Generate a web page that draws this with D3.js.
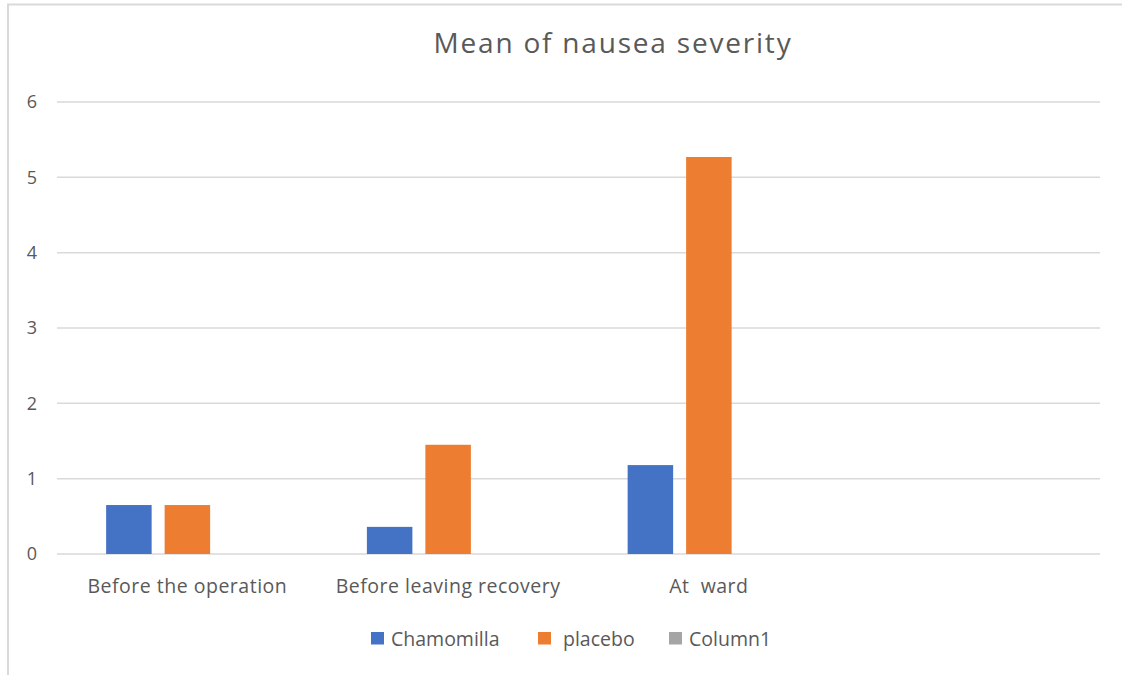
<!DOCTYPE html>
<html>
<head>
<meta charset="utf-8">
<script src="https://cdn.jsdelivr.net/npm/d3@7"></script>
<style>
    body { margin: 0; background: #fff; }
    svg { font-family: "Open Sans", "Noto Sans", sans-serif; }
    text { white-space: pre; }
</style>
</head>
<body>
<div id="chart"></div>
<script>
const categories = ['Before the operation', 'Before leaving recovery', 'At  ward', ''];
const seriesNames = ['Chamomilla', 'placebo', 'Column1'];
const chamomilla = [0.65, 0.36, 1.18, null];
const placebo = [0.65, 1.45, 5.27, null];
const column1 = [null, null, null, null];
const yTicks = [0, 1, 2, 3, 4, 5, 6];
const colors = ['#4472c4', '#ed7d31', '#a5a5a5'];

const width = 1122, height = 675;
const margin = {top: 102, right: 22, bottom: 121, left: 57};

const svg = d3.select('#chart')
    .append('svg')
    .attr('width', width)
    .attr('height', height);

// chart frame (partly cropped in the original)
svg.append('line')
    .attr('x1', 7).attr('x2', width).attr('y1', 4.5).attr('y2', 4.5)
    .attr('stroke', '#d9d9d9').attr('stroke-width', 2);
svg.append('line')
    .attr('x1', 8).attr('x2', 8).attr('y1', 4).attr('y2', height)
    .attr('stroke', '#d9d9d9').attr('stroke-width', 2);

const x = d3.scaleBand()
    .domain(categories.map((c, i) => i))
    .range([margin.left, width - margin.right]);

const xSub = d3.scaleBand()
    .domain(seriesNames)
    .range([0, x.bandwidth()])
    .paddingInner(0.222)
    .paddingOuter(0.84);

const y = d3.scaleLinear()
    .domain([0, 6])
    .range([height - margin.bottom, margin.top]);

// gridlines
svg.append('g')
    .selectAll('line')
    .data(yTicks)
    .enter().append('line')
    .attr('x1', margin.left)
    .attr('x2', width - margin.right)
    .attr('y1', d => y(d))
    .attr('y2', d => y(d))
    .attr('stroke', '#d9d9d9')
    .attr('stroke-width', 1.5);

// y axis labels
const yAxis = svg.append('g')
    .attr('transform', `translate(${margin.left},0)`)
    .call(d3.axisLeft(y).tickValues(yTicks).tickFormat(d3.format('d')).tickSize(0).tickPadding(20));
yAxis.select('.domain').remove();
yAxis.selectAll('text')
    .attr('fill', '#595959')
    .style('font-size', '18px')
    .style('font-family', '"Open Sans", sans-serif');

// bars
const data = [chamomilla, placebo, column1];
seriesNames.forEach((name, si) => {
    svg.append('g')
        .selectAll('rect')
        .data(data[si].map((v, i) => ({i, v})).filter(d => d.v !== null))
        .enter().append('rect')
        .attr('x', d => x(d.i) + xSub(name))
        .attr('width', xSub.bandwidth())
        .attr('y', d => y(d.v))
        .attr('height', d => y(0) - y(d.v))
        .attr('fill', colors[si]);
});

// x axis labels
const xAxis = svg.append('g')
    .attr('transform', `translate(0,${y(0)})`)
    .call(d3.axisBottom(x).tickFormat(i => categories[i]).tickSize(0).tickPadding(25));
xAxis.select('.domain').remove();
xAxis.selectAll('text')
    .attr('fill', '#595959')
    .style('font-size', '19.5px')
    .style('letter-spacing', '0.5px')
    .style('font-family', '"Open Sans", sans-serif');

// title
svg.append('text')
    .attr('x', 613)
    .attr('y', 53)
    .attr('text-anchor', 'middle')
    .attr('fill', '#595959')
    .style('font-size', '28px')
    .style('letter-spacing', '1.8px')
    .text('Mean of nausea severity');

// legend
const legendX = [371, 538, 669];
const legend = svg.append('g');
seriesNames.forEach((name, si) => {
    legend.append('rect')
        .attr('x', legendX[si])
        .attr('y', 632)
        .attr('width', 13)
        .attr('height', 12.5)
        .attr('fill', colors[si]);
    legend.append('text')
        .attr('x', legendX[si] + (si === 1 ? 25 : 20))
        .attr('y', 646)
        .attr('fill', '#595959')
        .style('font-size', '19.5px')
        .text(name);
});
</script>
</body>
</html>
